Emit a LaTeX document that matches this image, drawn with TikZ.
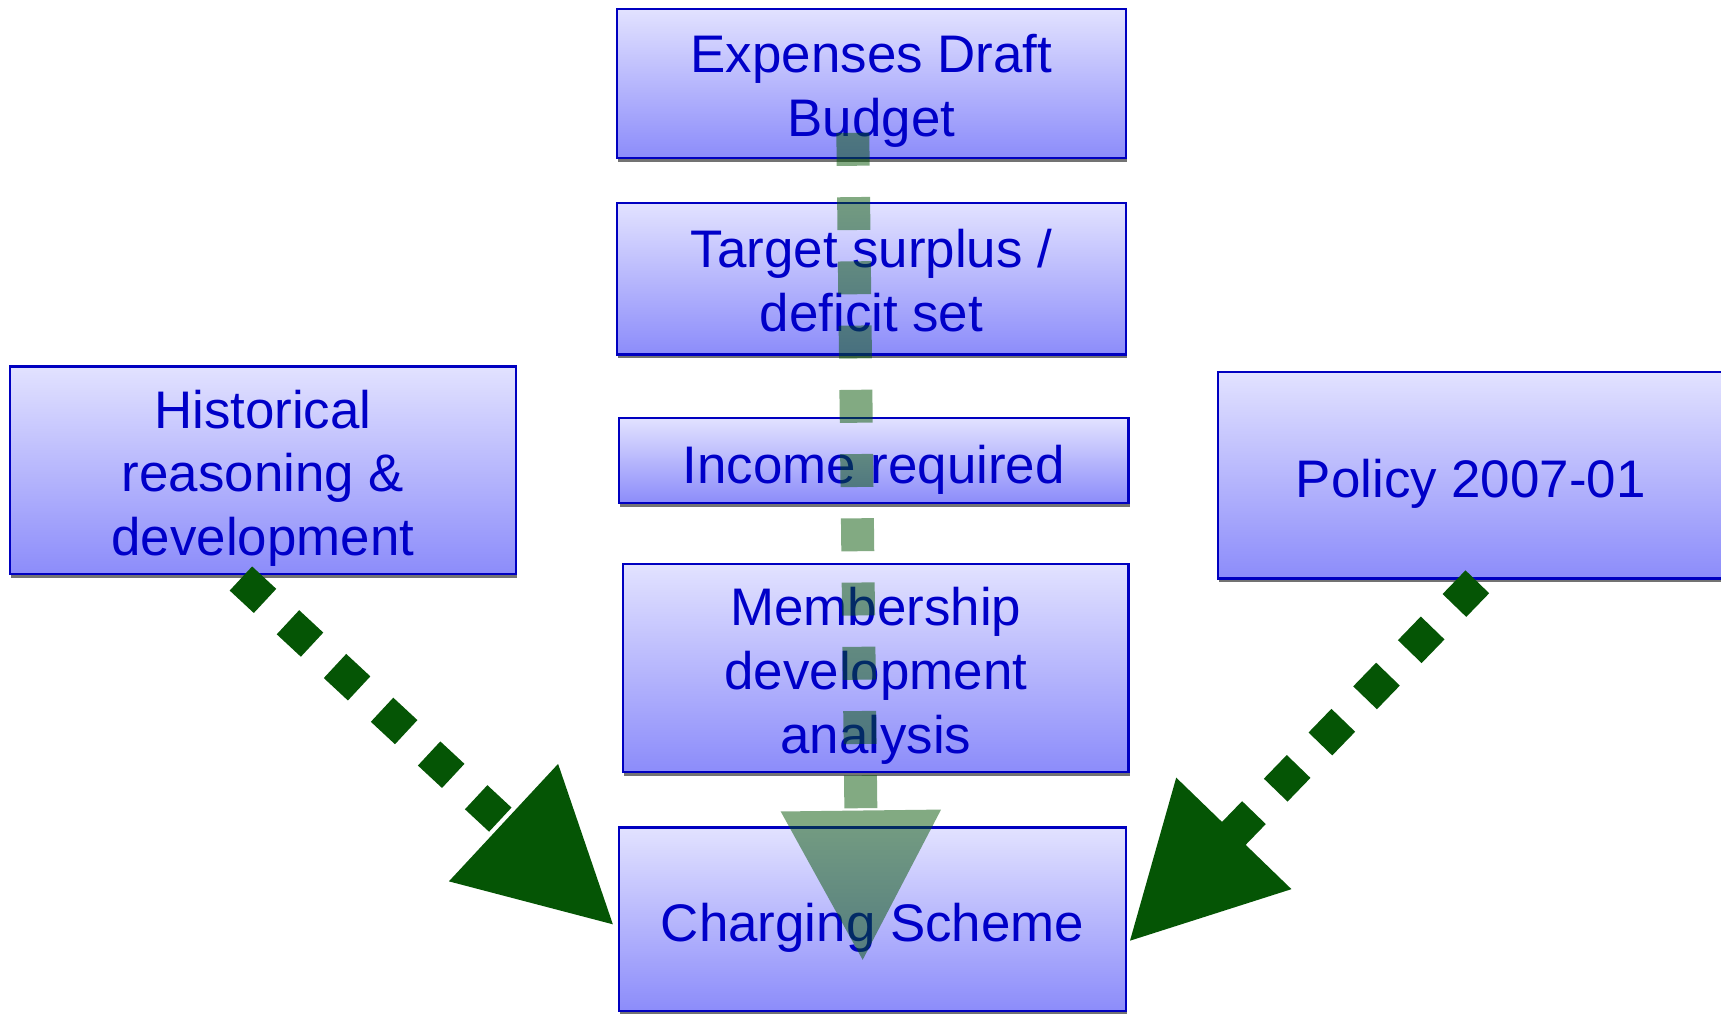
\documentclass[tikz,border=0pt]{standalone}
\usepackage{fontspec}
\setmainfont{Liberation Sans}
\usepackage{tikz}
\usetikzlibrary{arrows.meta,shadows}

\definecolor{boxline}{RGB}{0,0,192}
\definecolor{boxtop}{RGB}{226,226,255}
\definecolor{boxbottom}{RGB}{140,140,250}
\definecolor{boxtext}{RGB}{0,0,200}
\definecolor{flowgreen}{RGB}{5,85,5}

\begin{document}
\begin{tikzpicture}
	[x=0.01cm,y=-0.01cm,>={Triangle[length=1.38cm,width=1.37cm]},
		box/.style={rectangle,draw=boxline,line width=0.02cm,top color=boxtop,bottom color=boxbottom,
			text=boxtext,align=center,inner sep=0pt,font=\fontsize{13.7pt}{16.5pt}\selectfont,
			execute at begin node={\rule[-0.102cm]{0pt}{0.616cm}},
			execute at end node={\rule[-0.102cm]{0pt}{0.536cm}},
			drop shadow={shadow xshift=0.01cm,shadow yshift=-0.035cm,fill=black!55,opacity=1}},
		two lines/.style={text height=1.064cm},
		three lines/.style={text height=1.654cm},
		flow/.style={->,line width=0.3cm,dash pattern=on 0.3cm off 0.285cm,draw=flowgreen}]

	\useasboundingbox (0,0) rectangle (1568,923);

	\node[box, two lines, minimum width=4.64cm, minimum height=1.36cm] (expenses) at (794,76)  {Expenses Draft\\Budget};
	\node[box, two lines, minimum width=4.64cm, minimum height=1.38cm] (target) at (794,254) {Target surplus /\\deficit set};
	\node[box, minimum width=4.64cm, minimum height=0.77cm] (income) at (796,419.5) {Income required};
	\node[box, three lines, minimum width=4.60cm, minimum height=1.89cm] (member) at (798,608.5) {Membership\\development\\analysis};
	\node[box, minimum width=4.62cm, minimum height=1.67cm] (charging) at (795,837.5) {Charging Scheme};
	\node[box, three lines, minimum width=4.61cm, minimum height=1.89cm] (history) at (239.5,428.5) {Historical\\reasoning \&\\development};
	\node[box, minimum width=4.60cm, minimum height=1.88cm] (policy) at (1340,433) {Policy 2007-01};

	\path
	([xshift=-0.2cm,yshift=-0.03cm]history.south) edge [flow] ([xshift=-0.03cm,yshift=-0.06cm]charging.west)
	([xshift=0.06cm,yshift=-0.02cm]policy.south) edge [flow] ([xshift=0.01cm,yshift=-0.21cm]charging.east)
	;

	% see-through arrow down the middle
	\begin{scope}[transparency group, opacity=0.5]
		\path ([xshift=-0.17cm,yshift=0.24cm]expenses.south) edge [flow] ([xshift=-0.09cm,yshift=-0.39cm]charging.center);
	\end{scope}

\end{tikzpicture}
\end{document}
